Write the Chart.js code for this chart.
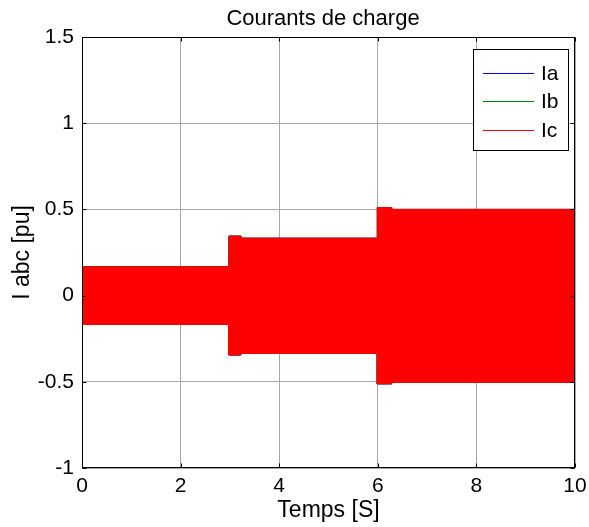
<!DOCTYPE html>
<html><head><meta charset="utf-8">
<script src="https://cdn.jsdelivr.net/npm/chart.js@4.4.1/dist/chart.umd.min.js"></script>
<style>html,body{margin:0;padding:0;background:#fff;}canvas{display:block;}</style>
</head><body>
<canvas id="c" width="589" height="527"></canvas>
<script>
// ---- data ----
const chartTitle = 'Courants de charge';
const xTitle = 'Temps [S]';
const yTitle = 'I abc [pu]';
const seriesLabels = ['Ia', 'Ib', 'Ic'];
const seriesColors = ['#0000ff', '#008000', '#ff0000'];
// envelope breakpoints of the 50 Hz load currents (time in s)
const envTime  = [0, 2.98, 2.98, 3.22, 3.22, 5.99, 5.99, 6.28, 6.28, 10];
const iaUpper  = [0.167, 0.167, 0.345, 0.345, 0.333, 0.333, 0.51, 0.51, 0.50, 0.50];
const iaLower  = [-0.167, -0.167, -0.345, -0.345, -0.335, -0.335, -0.512, -0.512, -0.503, -0.503];
const ibUpper  = [0.167, 0.167, 0.345, 0.345, 0.333, 0.333, 0.51, 0.51, 0.50, 0.50];
const ibLower  = [-0.167, -0.167, -0.345, -0.345, -0.335, -0.335, -0.512, -0.512, -0.503, -0.503];
const icUpper  = [0.167, 0.167, 0.345, 0.345, 0.333, 0.333, 0.51, 0.51, 0.50, 0.50];
const icLower  = [-0.167, -0.167, -0.345, -0.345, -0.335, -0.335, -0.512, -0.512, -0.503, -0.503];
const xTicks = [0, 2, 4, 6, 8, 10];
const yTicks = [-1, -0.5, 0, 0.5, 1, 1.5];

const FONT = "'Liberation Sans', Arial, Helvetica, sans-serif";
const pts = arr => envTime.map((t, i) => ({x: t, y: arr[i]}));
const uppers = [iaUpper, ibUpper, icUpper];
const lowers = [iaLower, ibLower, icLower];

const datasets = [];
seriesLabels.forEach((lab, k) => {
  datasets.push({label: lab, data: pts(uppers[k]), borderColor: seriesColors[k], backgroundColor: seriesColors[k],
    borderWidth: 1, pointRadius: 0, tension: 0, fill: '+1', order: 10 - k * 2});
  datasets.push({label: lab + '_low', data: pts(lowers[k]), borderColor: seriesColors[k], backgroundColor: seriesColors[k],
    borderWidth: 1, pointRadius: 0, tension: 0, fill: false, order: 9 - k * 2});
});

const boxPlugin = {
  id: 'boxPlugin',
  afterDraw(chart) {
    const ctx = chart.ctx, a = chart.chartArea;
    const xs = chart.scales.x, ys = chart.scales.y;
    ctx.save();
    // title centred over the axes
    ctx.fillStyle = '#000';
    ctx.font = '22px ' + FONT;
    ctx.textAlign = 'center';
    ctx.textBaseline = 'middle';
    ctx.fillText(chartTitle, 323, 19);

    ctx.strokeStyle = '#000';
    ctx.lineWidth = 1;
    const L = Math.round(a.left) + 0.5, R = Math.round(a.right) - 0.5;
    const T = Math.round(a.top) + 0.5, B = Math.round(a.bottom) - 0.5;
    ctx.strokeRect(L, T, R - L, B - T);
    // inward tick marks
    ctx.beginPath();
    xTicks.forEach(v => {
      const px = Math.round(xs.getPixelForValue(v)) + 0.5;
      ctx.moveTo(px, B); ctx.lineTo(px, B - 4);
      ctx.moveTo(px, T); ctx.lineTo(px, T + 4);
    });
    yTicks.forEach(v => {
      const py = Math.round(ys.getPixelForValue(v)) + 0.5;
      ctx.moveTo(L, py); ctx.lineTo(L + 4, py);
      ctx.moveTo(R, py); ctx.lineTo(R - 4, py);
    });
    ctx.stroke();
    // legend box
    const lx = 473.5, ly = 49.5, lw = 95, lh = 101;
    ctx.fillStyle = '#fff';
    ctx.fillRect(lx, ly, lw, lh);
    ctx.strokeRect(lx, ly, lw, lh);
    const rowsY = [73, 101, 130];
    ctx.font = '21px ' + FONT;
    ctx.textBaseline = 'middle';
    ctx.textAlign = 'left';
    seriesLabels.forEach((lab, k) => {
      ctx.strokeStyle = seriesColors[k];
      ctx.lineWidth = 1.2;
      ctx.beginPath();
      ctx.moveTo(483, rowsY[k] + 0.5); ctx.lineTo(534, rowsY[k] + 0.5);
      ctx.stroke();
      ctx.fillStyle = '#000';
      ctx.fillText(lab, 541, rowsY[k] + 1);
    });
    ctx.restore();
  }
};

new Chart(document.getElementById('c'), {
  type: 'line',
  data: {datasets},
  options: {
    responsive: false,
    animation: false,
    devicePixelRatio: 1,
    layout: {padding: {left: 0, right: 14, top: 37, bottom: 0}},
    plugins: {
      legend: {display: false},
      tooltip: {enabled: false},
      filler: {drawTime: 'beforeDatasetDraw'},
      title: {display: false}
    },
    scales: {
      x: {
        type: 'linear', min: 0, max: 10,
        afterFit: s => { s.height = 59; s.paddingLeft = 0; s.paddingRight = 0; },
        afterBuildTicks: s => { s.ticks = xTicks.map(v => ({value: v})); },
        ticks: {color: '#000', font: {family: FONT, size: 21}, padding: 6, maxRotation: 0, callback: v => String(v)},
        grid: {color: '#a8a8a8', lineWidth: 1, drawTicks: false},
        border: {display: false},
        title: {display: true, text: xTitle, color: '#000', font: {family: FONT, size: 23}, padding: {top: 0, bottom: 3}}
      },
      y: {
        type: 'linear', min: -1, max: 1.5,
        afterFit: s => { s.width = 82; s.paddingTop = 0; s.paddingBottom = 0; },
        afterBuildTicks: s => { s.ticks = yTicks.map(v => ({value: v})); },
        ticks: {color: '#000', font: {family: FONT, size: 21}, padding: 8, callback: v => String(v)},
        grid: {color: '#a8a8a8', lineWidth: 1, drawTicks: false},
        border: {display: false},
        title: {display: true, text: yTitle, color: '#000', font: {family: FONT, size: 23}, padding: {top: 9, bottom: 0}}
      }
    }
  },
  plugins: [boxPlugin]
});
</script>
</body></html>
